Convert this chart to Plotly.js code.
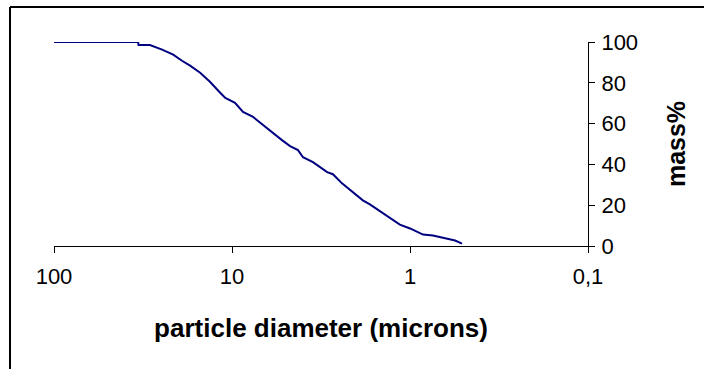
<!DOCTYPE html>
<html>
<head>
<meta charset="utf-8">
<script src="https://cdn.plot.ly/plotly-3.0.1.min.js"></script>
<style>
  html, body { margin: 0; padding: 0; background: #ffffff; }
  #chart { width: 704px; height: 369px; }
</style>
</head>
<body>
<div id="chart"></div>
<script>
// Particle diameter (microns) and cumulative mass%
const diameter = [100, 33.7, 33.5, 28.9, 24.7, 21.4, 19.1, 17.2, 15.1, 13.3, 11.8, 10.9, 9.62, 8.67, 7.62, 6.70, 5.96, 5.24, 4.72, 4.26, 3.99, 3.51, 2.92, 2.71, 2.41, 2.17, 1.84, 1.68, 1.44, 1.29, 1.14, 1.0, 0.845, 0.743, 0.636, 0.558, 0.51];
const massPct  = [100, 100, 98.5, 98.5, 96.3, 93.8, 90.8, 88.4, 84.9, 80.5, 75.6, 72.6, 70.2, 65.7, 63.3, 59.3, 55.9, 51.9, 49.0, 47.0, 43.5, 41.1, 36.2, 35.2, 30.7, 27.3, 22.4, 20.4, 16.5, 13.5, 10.5, 8.6, 5.6, 5.1, 3.6, 2.7, 1.2];

const xTickVals = [100, 10, 1, 0.1];
const xTickText = ['100', '10', '1', '0,1'];
const yTickVals = [0, 20, 40, 60, 80, 100];

const W = 704, H = 369;
const M = { l: 54, r: 116, t: 42, b: 123 };
const pw = W - M.l - M.r, ph = H - M.t - M.b;
const px = v => (v - M.l) / pw;
const py = v => 1 - (v - M.t) / ph;

const font = 'Liberation Sans, Arial, sans-serif';

const trace = {
  x: diameter,
  y: massPct,
  type: 'scatter',
  mode: 'lines',
  line: { color: '#000080', width: 2 },
  hoverinfo: 'skip'
};

const layout = {
  width: W, height: H,
  margin: M,
  paper_bgcolor: '#ffffff',
  plot_bgcolor: '#ffffff',
  showlegend: false,
  font: { family: font, color: '#000000', size: 22 },
  xaxis: {
    type: 'log',
    range: [2, -1],
    tickvals: xTickVals,
    ticktext: xTickText,
    ticks: 'outside', ticklen: 6, tickwidth: 1, tickcolor: '#000',
    ticklabelstandoff: 5,
    showline: true, linecolor: '#000', linewidth: 1,
    showgrid: false, zeroline: false,
    tickfont: { family: font, size: 22 },
    title: { text: 'particle diameter (microns)', font: { family: font, size: 26, weight: 'bold' }, standoff: 30 },
    automargin: false
  },
  yaxis: {
    side: 'right',
    range: [0, 100],
    tickvals: yTickVals,
    ticks: 'outside', ticklen: 6, tickwidth: 1, tickcolor: '#000',
    ticklabelstandoff: 2,
    showline: true, linecolor: '#000', linewidth: 1,
    showgrid: false, zeroline: false,
    tickfont: { family: font, size: 22 },
    title: { text: 'mass%', font: { family: font, size: 25, weight: 'bold' }, standoff: 30 },
    automargin: false
  },
  shapes: [
    { type: 'line', xref: 'paper', yref: 'paper', x0: px(10), x1: px(706), y0: py(7), y1: py(7), line: { color: '#000', width: 2 } },
    { type: 'line', xref: 'paper', yref: 'paper', x0: px(10), x1: px(10), y0: py(7), y1: py(372), line: { color: '#000', width: 2 } }
  ]
};

Plotly.newPlot('chart', [trace], layout, { staticPlot: true, displayModeBar: false });
</script>
</body>
</html>
